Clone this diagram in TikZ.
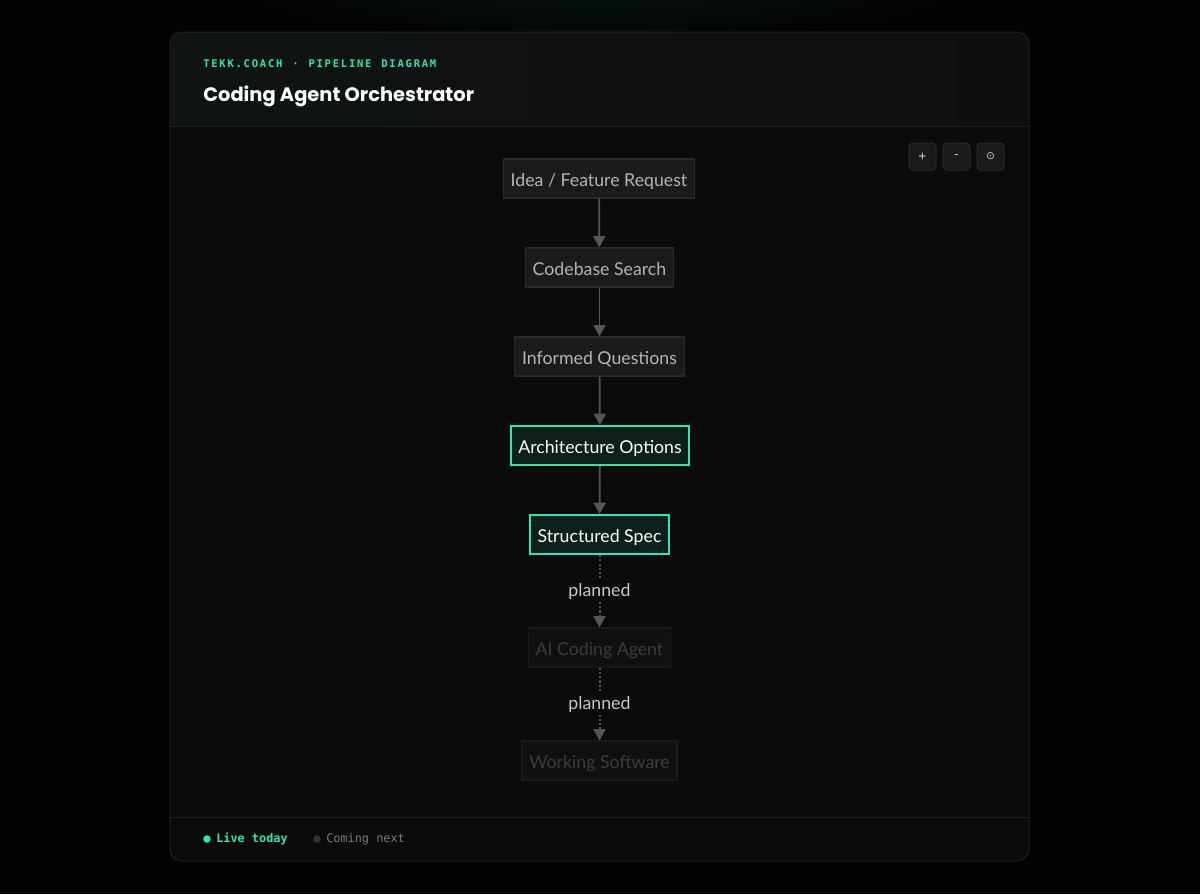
\documentclass[tikz,border=0pt]{standalone}
\usepackage{fontspec}
\setmainfont{Lato}
\newfontfamily\titlefont{Poppins}
\newfontfamily\monofont{DejaVu Sans Mono}
\newfontfamily\symfont{DejaVu Sans}
\usetikzlibrary{arrows.meta,shadings}
\definecolor{pagebg}{HTML}{030303}
\definecolor{cardbg}{HTML}{0B0B0B}
\definecolor{cardline}{HTML}{202020}
\definecolor{teal}{HTML}{2EE6B4}
\definecolor{nodefill}{HTML}{1B1B1B}
\definecolor{nodeline}{HTML}{2A2A2A}
\definecolor{nodetext}{HTML}{B4B4B4}
\definecolor{activefill}{HTML}{0E201B}
\definecolor{fadefill}{HTML}{101010}
\definecolor{fadeline}{HTML}{1A1A1A}
\definecolor{fadetext}{HTML}{3C3C3C}
\definecolor{arrowcol}{HTML}{565656}
\definecolor{btnfill}{HTML}{1A1A1A}
\definecolor{btnline}{HTML}{2A2A2A}
\definecolor{headleft}{HTML}{0F1413}
\definecolor{headright}{HTML}{0E0E0E}
\begin{document}
\begin{tikzpicture}[x=0.75pt,y=-0.75pt,
  stepbox/.style={draw=nodeline,fill=nodefill,line width=0.9pt,text=nodetext,
    font=\fontsize{13.3}{15}\selectfont,minimum height=29.25pt,inner xsep=5.5pt,
    text height=11.5pt,text depth=0pt},
  activebox/.style={stepbox,draw=teal,fill=activefill,text=white,line width=1.5pt},
  fadebox/.style={stepbox,draw=fadeline,fill=fadefill,text=fadetext},
  flow/.style={draw=arrowcol,line width=1.3pt,-{Triangle[width=9pt,length=8.5pt]}},
  plannedflow/.style={flow,dash pattern=on 1.6pt off 1.6pt,line width=1.5pt},
  plannedlabel/.style={fill=cardbg,text=white!78!black,font=\fontsize{13.3}{15}\selectfont,inner sep=2pt},
  btn/.style={draw=btnline,fill=btnfill,line width=0.75pt,rounded corners=3pt,minimum size=20.25pt,inner sep=0pt,text=white!80!black},
]
\useasboundingbox (0,0) rectangle (1200,894);
\fill[pagebg] (0,0) rectangle (1200,894);
% teal glow at top
\begin{scope}
\clip (0,0) rectangle (1200,200);
\shade[inner color=teal!12!pagebg,outer color=pagebg] (600,-60) ellipse (420 and 110);
\end{scope}
% card
\fill[cardbg,rounded corners=9pt] (170,32) rectangle (1029,861);
\begin{scope}
\clip[rounded corners=9pt] (170,32) rectangle (1029,861);
\shade[left color=headleft,right color=headright] (170,32) rectangle (1029,126);
\end{scope}
\draw[cardline,line width=0.75pt,rounded corners=9pt] (170,32) rectangle (1029,861);
\draw[cardline,line width=0.75pt] (170,126) -- (1029,126);
\draw[cardline,line width=0.75pt] (170,817) -- (1029,817);
% header
\node[anchor=base west,inner sep=0pt,text=teal,font=\monofont\bfseries\fontsize{7.9}{10}\selectfont] (kicker) at (203,67.5)
  {T\,E\,K\,K\,.\,C\,O\,A\,C\,H\,\ \,·\,\ \,P\,I\,P\,E\,L\,I\,N\,E\,\ \,D\,I\,A\,G\,R\,A\,M};
\node[anchor=base west,inner sep=0pt,text=white,font=\titlefont\bfseries\fontsize{14.6}{18}\selectfont] (title) at (203,101) {Coding Agent Orchestrator};
% buttons
\node[btn,font=\monofont\fontsize{9.5}{10}\selectfont] (plus) at (922.5,156.5) {+};
\node[btn,font=\monofont\fontsize{9.5}{10}\selectfont] (minus) at (956.5,156.5) {-};
\node[btn,font=\symfont\fontsize{8}{10}\selectfont] (reset) at (990.5,156.5) {⊙};
% nodes
\node[stepbox] (idea) at (599,178.5) {Idea / Feature Request};
\node[stepbox] (search) at (599.5,267.5) {Codebase Search};
\node[stepbox] (questions) at (599.5,356.5) {Informed Questions};
\node[activebox] (arch) at (600,445.5) {Architecture Options};
\node[activebox] (spec) at (599.5,534.5) {Structured Spec};
\node[fadebox] (agent) at (599.5,647.5) {AI Coding Agent};
\node[fadebox] (software) at (599.5,760.5) {Working Software};
% connectors
\draw[flow] (idea) -- (search);
\draw[flow] (search) -- (questions);
\draw[flow] (questions) -- (arch);
\draw[flow] (arch) -- (spec);
\draw[plannedflow] (spec) -- node[plannedlabel,pos=0.5] (l1) {planned} (agent);
\draw[plannedflow] (agent) -- node[plannedlabel,pos=0.5] (l2) {planned} (software);
% legend
\fill[teal] (207,839) circle (2.8pt);
\node[anchor=west,inner sep=0pt,text=teal,font=\monofont\bfseries\fontsize{8.9}{10}\selectfont] (live) at (216,839) {Live today};
\fill[white!20!black] (317,839) circle (2.8pt);
\node[anchor=west,inner sep=0pt,text=white!48!black,font=\monofont\fontsize{8.9}{10}\selectfont] (next) at (326,839) {Coming next};
\end{tikzpicture}
\end{document}
